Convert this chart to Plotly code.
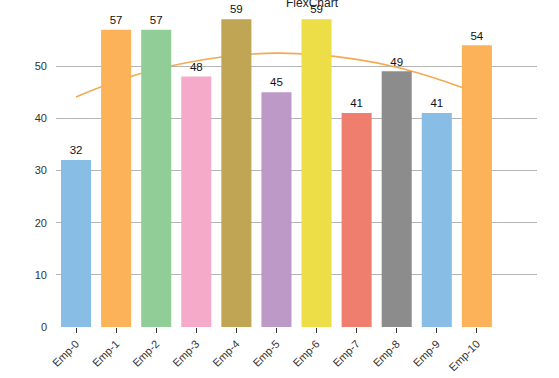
import plotly.graph_objects as go

categories = ["Emp-0", "Emp-1", "Emp-2", "Emp-3", "Emp-4", "Emp-5",
              "Emp-6", "Emp-7", "Emp-8", "Emp-9", "Emp-10"]
values = [32, 57, 57, 48, 59, 45, 59, 41, 49, 41, 54]
trend_values = [44.1, 47.1, 49.4, 51.0, 52.1, 52.5, 52.2, 51.3, 49.8, 47.6, 44.9]
bar_colors = ["#88bde6", "#fbb258", "#90cd97", "#f6aac9", "#bfa554", "#bc99c7",
              "#eddd46", "#f07e6e", "#8c8c8c", "#88bde6", "#fbb258"]
y_ticks = [0, 10, 20, 30, 40, 50]

x_idx = list(range(len(categories)))

fig = go.Figure()
fig.add_trace(go.Scatter(
    x=x_idx, y=trend_values, mode="lines",
    line=dict(color="#f4aa52", width=1.6, shape="spline"),
    zorder=-1, hoverinfo="skip", showlegend=False))
fig.add_trace(go.Bar(
    x=x_idx, y=values, width=0.75,
    marker=dict(color=bar_colors, line=dict(width=0)),
    showlegend=False))
fig.add_trace(go.Scatter(
    x=x_idx, y=values, mode="markers+text",
    marker=dict(size=3, opacity=0),
    text=[str(v) for v in values], textposition="top center",
    textfont=dict(family="Liberation Sans, Arial, sans-serif", size=11.5, color="#111111"),
    cliponaxis=False, hoverinfo="skip", showlegend=False))

plot_h = 327
y_top = plot_h / 5.217

fig.update_layout(
    width=559, height=378,
    margin=dict(l=56, r=22, t=0, b=378 - plot_h, autoexpand=False),
    paper_bgcolor="white", plot_bgcolor="white",
    font=dict(family="Liberation Sans, Arial, sans-serif", size=11, color="#333333"),
    bargap=0.25,
    xaxis=dict(
        range=[-0.5, 11.5], tickmode="array", tickvals=x_idx, ticktext=categories,
        tickangle=-45, ticks="outside", ticklen=5, tickcolor="#333333",
        showline=True, linecolor="#333333", linewidth=1.2,
        showgrid=False, zeroline=False, fixedrange=True, automargin=False,
        tickfont=dict(size=11, color="#333333")),
    yaxis=dict(
        range=[0, y_top], tickmode="array", tickvals=y_ticks,
        showgrid=True, gridcolor="#b5b5b5", gridwidth=1,
        zeroline=False, showline=False, ticks="", automargin=False,
        ticklabelstandoff=8, fixedrange=True,
        tickfont=dict(size=11, color="#333333")),
    annotations=[dict(
        text="FlexChart", xref="paper", yref="paper",
        x=(312 - 56) / 481, y=(plot_h - 3) / plot_h, xanchor="center", yanchor="middle",
        showarrow=False, font=dict(size=12, color="#222222"))],
)

fig.write_html("out.html",
               config={"displayModeBar": False},
               post_script="document.body.style.margin='0';document.body.style.overflow='hidden';")
